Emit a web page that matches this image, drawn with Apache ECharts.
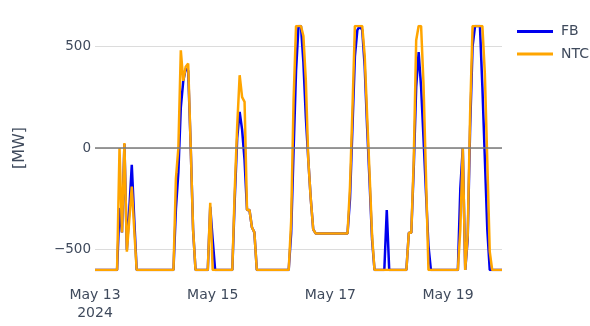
<!DOCTYPE html>
<html>
<head>
<meta charset="utf-8">
<script src="https://cdn.jsdelivr.net/npm/echarts@6/dist/echarts.min.js"></script>
<style>
  html, body { margin: 0; padding: 0; background: #fff; }
  #flow-chart { width: 590px; height: 326px; }
</style>
</head>
<body>
<div id="flow-chart"></div>
<script>
  // hourly values from May 13 2024 00:00, one line per day
  var fbValues = [
    -600,-600,-600,-600,-600,-600,-600,-600,-600,-600,-295,-415,20,-500,-300,-83,-350,-600,-600,-600,-600,-600,-600,-600,
    -600,-600,-600,-600,-600,-600,-600,-600,-600,-300,-120,200,330,390,380,20,-400,-600,-600,-600,-600,-600,-600,-290,
    -450,-600,-600,-600,-600,-600,-600,-600,-600,-250,50,178,90,-60,-305,-305,-390,-415,-600,-600,-600,-600,-600,-600,
    -600,-600,-600,-600,-600,-600,-600,-600,-420,-10,380,600,600,420,150,-60,-250,-400,-420,-420,-420,-420,-420,-420,
    -420,-420,-420,-420,-420,-420,-420,-420,-250,100,450,580,600,580,400,100,-170,-450,-600,-600,-600,-600,-600,-305,
    -600,-600,-600,-600,-600,-600,-600,-600,-417,-417,-100,300,472,300,45,-220,-480,-600,-600,-600,-600,-600,-600,-600,
    -600,-600,-600,-600,-600,-200,0,-600,-450,100,500,600,600,600,300,-50,-400,-600,-600,-600,-600,-600,-600
  ];
  var ntcValues = [
    -600,-600,-600,-600,-600,-600,-600,-600,-600,-600,0,-415,25,-510,-350,-190,-400,-600,-600,-600,-600,-600,-600,-600,
    -600,-600,-600,-600,-600,-600,-600,-600,-600,-150,0,480,330,400,415,20,-400,-600,-600,-600,-600,-600,-600,-270,
    -600,-600,-600,-600,-600,-600,-600,-600,-600,-206,109,358,250,227,-305,-305,-390,-415,-600,-600,-600,-600,-600,-600,
    -600,-600,-600,-600,-600,-600,-600,-600,-360,240,600,600,600,550,330,-60,-250,-400,-420,-420,-420,-420,-420,-420,
    -420,-420,-420,-420,-420,-420,-420,-420,-190,190,600,600,600,600,455,155,-130,-430,-600,-600,-600,-600,-600,-600,
    -600,-600,-600,-600,-600,-600,-600,-600,-417,-417,-60,530,600,600,310,-140,-600,-600,-600,-600,-600,-600,-600,-600,
    -600,-600,-600,-600,-600,-400,0,-600,-430,170,600,600,600,600,600,367,-63,-510,-600,-600,-600,-600,-600
  ];
  var seriesNames = ['FB', 'NTC'];
  var tickHours = [0, 48, 96, 144];
  var tickLabels = ['May 13\n2024', 'May 15', 'May 17', 'May 19'];

  var textColor = '#3f4a5c';
  var fontFamily = '"DejaVu Sans", Verdana, sans-serif';

  function toPairs(values) {
    return values.map(function (v, i) { return [i, v]; });
  }

  var myChart = echarts.init(document.getElementById('flow-chart'), null, { renderer: 'canvas' });
  var option = {
    animation: false,
    textStyle: { fontFamily: fontFamily },
    grid: { left: 95, right: 88, top: 26, bottom: 56, containLabel: false, outerBoundsMode: 'none' },
    legend: {
      orient: 'vertical',
      left: 517,
      top: 24.5,
      padding: 0,
      itemWidth: 36,
      itemHeight: 3,
      itemGap: 8.6,
      icon: 'rect',
      textStyle: { color: textColor, fontSize: 14, fontFamily: fontFamily, padding: [0, 0, 0, 3] },
      data: seriesNames
    },
    xAxis: {
      type: 'value',
      min: 0,
      max: fbValues.length - 1,
      interval: 48,
      axisLine: { show: false },
      axisTick: { show: false },
      splitLine: { show: false },
      axisLabel: {
        color: textColor,
        fontSize: 14,
        lineHeight: 18,
        margin: 16,
        showMaxLabel: false,
        formatter: function (v) {
          var k = tickHours.indexOf(v);
          return k >= 0 ? tickLabels[k] : '';
        }
      }
    },
    yAxis: {
      type: 'value',
      min: -600,
      max: 600,
      interval: 100,
      name: '[MW]',
      nameLocation: 'middle',
      nameGap: 67,
      nameRotate: 90,
      nameTextStyle: { color: textColor, fontSize: 16, fontFamily: fontFamily },
      axisLine: { show: false },
      axisTick: { show: false },
      axisLabel: {
        color: textColor,
        fontSize: 13.5,
        margin: 4,
        formatter: function (v) {
          if (v % 500 !== 0) return '';
          return v < 0 ? '\u2212' + Math.abs(v) : String(v);
        }
      },
      // only every fifth line (-500, 0, 500) is visible
      splitLine: {
        show: true,
        lineStyle: { color: ['rgba(0,0,0,0)', '#dcdcdc', 'rgba(0,0,0,0)', 'rgba(0,0,0,0)', 'rgba(0,0,0,0)'], width: 1 }
      }
    },
    series: [
      {
        type: 'line',
        name: 'zero',
        data: [],
        z: 1,
        silent: true,
        markLine: {
          silent: true,
          symbol: 'none',
          label: { show: false },
          lineStyle: { color: '#7a7a7a', width: 1.5, type: 'solid' },
          data: [{ yAxis: 0 }]
        }
      },
      {
        name: 'FB',
        type: 'line',
        data: toPairs(fbValues),
        symbol: 'none',
        z: 2,
        lineStyle: { color: '#0000ee', width: 2.5 },
        itemStyle: { color: '#0000ee' }
      },
      {
        name: 'NTC',
        type: 'line',
        data: toPairs(ntcValues),
        symbol: 'none',
        z: 3,
        lineStyle: { color: '#ffa500', width: 2.5 },
        itemStyle: { color: '#ffa500' }
      }
    ]
  };
  myChart.setOption(option, true);
</script>
</body>
</html>
